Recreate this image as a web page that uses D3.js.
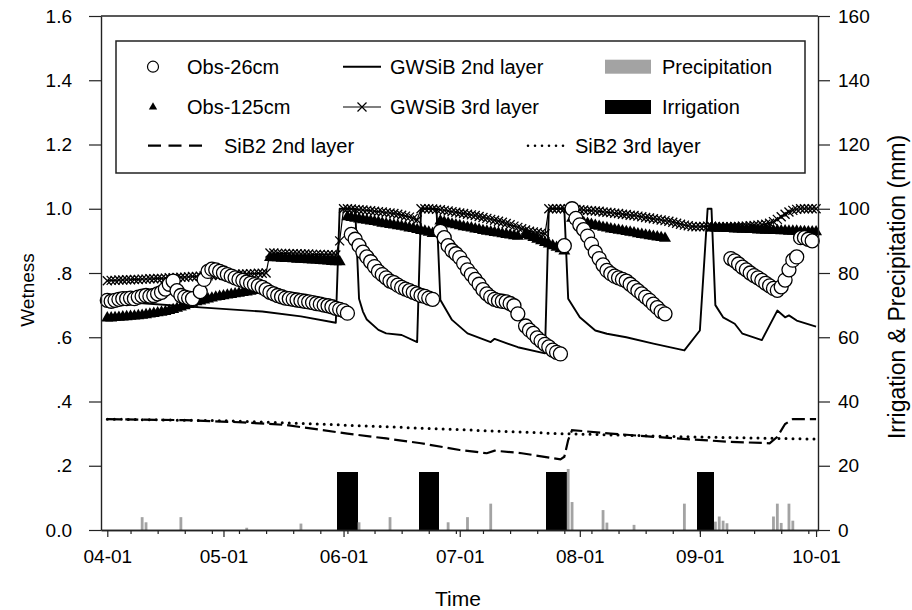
<!DOCTYPE html>
<html><head><meta charset="utf-8">
<script src="https://cdn.jsdelivr.net/npm/d3@7"></script>
<style>
body{margin:0;background:#fff}
svg{display:block}
text{font-family:Arial,"Liberation Sans",sans-serif;fill:#000}
</style>
</head><body>
<svg id="chart" width="912" height="610"></svg>
<script>
// ---------------- DATA ----------------
const year = 2010;
const monthTicks = ["04-01","05-01","06-01","07-01","08-01","09-01","10-01"];
const yTickValues = [0,0.2,0.4,0.6,0.8,1.0,1.2,1.4,1.6];
const yTickLabels = ["0.0",".2",".4",".6",".8","1.0","1.2","1.4","1.6"];
const rTickValues = [0,20,40,60,80,100,120,140,160];

const precipDates  = ["04-10","04-11","04-20","05-07","05-21","06-05","06-13","06-28","07-03","07-09","07-29","07-30","08-07","08-08","08-15","08-28","09-05","09-06","09-07","09-08","09-20","09-21","09-22","09-24","09-25"];
const precipValues = [4,2.4,4,0.7,2,2.4,4,2.4,4,8.2,19,8.7,6.2,2.3,1.6,8.2,2.6,4.2,2.9,2.1,4.2,8.2,2.2,8.2,2.9];

const irrigDates  = ["05-31","06-01","06-02","06-03","06-04","06-21","06-22","06-23","06-24","06-25","07-24","07-25","07-26","07-27","07-28","09-01","09-02","09-03","09-04"];
const irrigValues = [18,18,18,18,18,18,18,18,18,18,18,18,18,18,18,18,18,18,18];

// GWSiB 2nd layer (solid line), read at break points
const gw2Dates  = ["04-01","04-11","04-25","05-11","05-21","05-30","05-31","06-04","06-05","06-06","06-07","06-10","06-12","06-16","06-20","06-21","06-25","06-26","06-29","07-03","07-09","07-10","07-16","07-23","07-24","07-28","07-29","08-01","08-05","08-08","08-13","08-20","08-28","09-01","09-03","09-04","09-05","09-07","09-10","09-12","09-17","09-21","09-23","09-24","09-26","10-01"];
const gw2Values = [.715,.705,.693,.68,.665,.645,1.0,1.0,.72,.68,.655,.623,.612,.607,.585,1.0,1.0,.716,.654,.612,.585,.595,.569,.55,1.0,1.0,.72,.662,.621,.611,.60,.58,.559,.621,1.0,1.0,.70,.662,.642,.611,.591,.683,.662,.668,.652,.633];

// SiB2 2nd layer (dashed)
const sib2Dates  = ["04-01","04-21","05-06","05-17","05-23","06-02","06-12","06-21","07-01","07-08","07-10","07-17","07-27","07-28","07-29","07-30","08-09","08-26","09-08","09-19","09-21","09-23","09-25","10-01"];
const sib2Values = [.345,.342,.335,.327,.317,.30,.285,.27,.249,.239,.247,.239,.22,.228,.28,.311,.30,.285,.275,.27,.29,.33,.345,.345];

// SiB2 3rd layer (dotted)
const sib3Dates  = ["04-01","05-01","05-25","06-21","07-08","07-27","08-29","10-01"];
const sib3Values = [.345,.34,.33,.317,.309,.30,.29,.283];

// daily values from 04-01 (index 0) to 10-01 (index 183); null = no point
const obs26Values = [
.715,.712,.715,.718,.72,.72,.722,.72,.725,.728,
.73,.728,.73,.735,.74,.75,.765,.775,.745,.73,
.725,.722,.72,null,.742,.78,.805,.812,.81,.805,
.80,.795,.79,.785,.78,.777,.772,.768,.764,.76,
.755,.748,.74,.735,.73,.726,.722,.72,.718,.716,
.714,.712,.71,.708,.705,.703,.70,.698,.695,.69,
.687,.683,.675,.92,.905,.885,.865,.85,.835,.82,
.805,.795,.785,.775,.77,.762,.755,.75,.745,.74,
.735,.73,.727,.722,.718,null,.93,.91,.885,.87,
.86,.848,.83,.81,.795,.78,.765,.748,.735,.725,
.718,.714,.712,.71,.705,.698,.673,null,.635,.622,
.612,.598,.588,.578,.57,.56,.553,.548,.885,null,
1.0,.97,.95,.935,.915,.89,.865,.845,.825,.808,
.798,.79,.785,.78,.775,.765,.755,.745,.735,.725,
.715,.703,.692,.68,.673,null,null,null,null,null,
null,null,null,null,null,null,null,null,null,null,
null,.845,.838,.828,.818,.81,.80,.792,.785,.777,
.768,.76,.752,.746,.757,.778,.81,.84,.85,.91,
.91,.905,.90,null];

const obs125Values = [
.66,.66,.661,.662,.663,.664,.665,.666,.667,.668,
.67,.672,.674,.676,.678,.68,.683,.686,.69,.694,
.698,.702,.706,.71,.713,.716,.719,.722,.725,.727,
.729,.731,.733,.735,.737,.739,.741,.743,.745,.747,
.75,.755,.848,.847,.847,.846,.845,.845,.844,.843,
.843,.842,.841,.84,.84,.839,.838,.837,.836,.835,
.835,null,.975,.973,.97,.968,.966,.964,.962,.96,
.958,.955,.953,.951,.949,.947,.945,.943,.94,.938,
.935,.932,.93,.927,.923,null,.962,.958,.955,.952,
.95,.947,.944,.942,.94,.937,.935,.932,.93,.928,
.926,.924,.922,.92,.918,.916,.914,null,.92,.915,
.91,.905,.9,.895,.89,.885,.88,.875,.868,null,
.97,.965,.96,.957,.954,.951,.948,.945,.942,.94,
.937,.935,.933,.931,.929,.927,.925,.922,.92,.918,
.916,.914,.912,.91,.908,null,null,null,null,null,
null,null,null,null,null,null,.94,.94,.939,.939,
.938,.938,.937,.937,.936,.936,.935,.935,.934,.934,
.933,.933,.932,.932,.931,.931,.93,.93,.93,.929,
.929,.928,.928,.928];

const gw3Values = [
.776,.777,.777,.778,.778,.779,.779,.78,.78,.781,
.781,.782,.782,.783,.783,.784,.785,.785,.786,.787,
.787,.788,.789,.789,.79,.791,.791,.792,.793,.793,
.794,.795,.795,.796,.796,.797,.797,.798,.798,.799,
.799,.80,.862,.862,.861,.861,.861,.86,.86,.86,
.859,.859,.859,.858,.858,.858,.857,.857,.857,.856,
.90,1.0,1.0,.999,.998,.997,.996,.995,.994,.992,
.991,.99,.988,.987,.985,.983,.98,.977,.974,.97,
.965,1.0,1.0,1.0,.999,.998,.997,.995,.993,.991,
.989,.987,.985,.983,.981,.979,.976,.973,.97,.967,
.964,.961,.958,.954,.95,.946,.942,.938,.934,.93,
.928,.926,.924,.922,1.0,1.0,1.0,1.0,1.0,1.0,
.999,.998,.997,.996,.995,.994,.993,.992,.99,.989,
.988,.986,.985,.983,.982,.98,.979,.977,.975,.973,
.971,.969,.967,.965,.963,.961,.958,.955,.952,.949,
.947,.945,.944,.944,.945,.946,.945,.944,.944,.944,
.944,.944,.945,.945,.946,.946,.947,.948,.949,.95,
.952,.955,.96,.967,.975,.983,.99,.995,.998,1.0,
1.0,1.0,1.0,1.0];

const legendItems = [
  {label:"Obs-26cm", kind:"circle", col:0, row:0},
  {label:"Obs-125cm", kind:"triangle", col:0, row:1},
  {label:"SiB2  2nd layer", kind:"dash", col:0, row:2},
  {label:"GWSiB 2nd layer", kind:"solid", col:1, row:0},
  {label:"GWSiB 3rd layer", kind:"xline", col:1, row:1},
  {label:"SiB2 3rd layer", kind:"dot", col:1, row:2},
  {label:"Precipitation", kind:"gray", col:2, row:0},
  {label:"Irrigation", kind:"black", col:2, row:1}
];

// ---------------- CHART ----------------
const parse = s => { const [m,d] = s.split("-").map(Number); return new Date(year, m-1, d); };
const day0 = new Date(year,3,1);
const dayDate = i => d3.timeDay.offset(day0, i);
const DAY = 864e5;

const svg = d3.select("#chart");
const L=101, R=818, T=16, B=530;
const FONT = 'Arial, "Liberation Sans", sans-serif';

const x = d3.scaleTime().domain([new Date(year,2,30,9), new Date(year,9,1,12)]).range([L,R]);
const yL = d3.scaleLinear().domain([0,1.6]).range([B,T]);
const yR = d3.scaleLinear().domain([0,160]).range([B,T]);

// bars
const irrig = irrigDates.map((d,i)=>({date:parse(d), v:irrigValues[i]}));
svg.append("g").attr("shape-rendering","crispEdges").selectAll("rect").data(irrig).join("rect")
  .attr("x", d=>x(new Date(+d.date - DAY/2)) - 0.5)
  .attr("width", d=>x(new Date(+d.date + DAY/2)) - x(new Date(+d.date - DAY/2)) + 1.2)
  .attr("y", d=>yR(d.v)).attr("height", d=>yR(0)-yR(d.v)).attr("fill","#000");
const precip = precipDates.map((d,i)=>({date:parse(d), v:precipValues[i]}));
svg.append("g").selectAll("rect").data(precip).join("rect")
  .attr("x", d=>x(d.date)-1.4).attr("width", 2.8)
  .attr("y", d=>yR(d.v)).attr("height", d=>yR(0)-yR(d.v)).attr("fill","#a3a3a3");

// lines
const line = d3.line().defined(d=>d.v!=null).x(d=>x(d.date)).y(d=>yL(d.v));
const toSeries = (dates, vals) => dates.map((d,i)=>({date:parse(d), v:vals[i]}));
const daily = vals => vals.map((v,i)=>({date:dayDate(i), v}));

svg.append("path").datum(toSeries(sib3Dates, sib3Values)).attr("d", line)
  .attr("fill","none").attr("stroke","#000").attr("stroke-width",3)
  .attr("stroke-linecap","round").attr("stroke-dasharray","0,7");
svg.append("path").datum(toSeries(sib2Dates, sib2Values)).attr("d", line)
  .attr("fill","none").attr("stroke","#000").attr("stroke-width",2.2)
  .attr("stroke-dasharray","13,5");
svg.append("path").datum(toSeries(gw2Dates, gw2Values)).attr("d", line)
  .attr("fill","none").attr("stroke","#000").attr("stroke-width",1.9).attr("stroke-linejoin","round");

// GWSiB 3rd with x markers
const gw3 = daily(gw3Values);
svg.append("path").datum(gw3).attr("d", line)
  .attr("fill","none").attr("stroke","#000").attr("stroke-width",1.2);
const xMark = "M-4.5,-4.5L4.5,4.5M-4.5,4.5L4.5,-4.5";
svg.append("g").selectAll("path").data(gw3.filter(d=>d.v!=null)).join("path")
  .attr("transform", d=>`translate(${x(d.date)},${yL(d.v)})`)
  .attr("d", xMark).attr("stroke","#000").attr("stroke-width",1.3).attr("fill","none");

// triangles
const tri = d3.symbol(d3.symbolTriangle, 62)();
svg.append("g").selectAll("path").data(daily(obs125Values).filter(d=>d.v!=null)).join("path")
  .attr("transform", d=>`translate(${x(d.date)},${yL(d.v)})`)
  .attr("d", tri).attr("fill","#000");

// circles
svg.append("g").selectAll("circle").data(daily(obs26Values).filter(d=>d.v!=null)).join("circle")
  .attr("cx", d=>x(d.date)).attr("cy", d=>yL(d.v)).attr("r",7)
  .attr("fill","#fff").attr("stroke","#000").attr("stroke-width",1.3);

// ---------------- AXES ----------------
function styleAxis(g, size){
  g.attr("font-family", FONT).attr("font-size", size);
  g.selectAll(".domain").attr("stroke","#222").attr("stroke-width",1.4);
  g.selectAll(".tick line").attr("stroke","#222").attr("stroke-width",1.2);
  g.selectAll(".tick text").attr("fill","#000");
}
svg.append("line").attr("x1",L).attr("x2",R).attr("y1",T).attr("y2",T).attr("stroke","#222").attr("stroke-width",1.4);

const gl = svg.append("g").attr("transform",`translate(${L},0)`)
  .call(d3.axisLeft(yL).tickValues(yTickValues).tickFormat((d,i)=>yTickLabels[i]).tickSize(12).tickPadding(17).tickSizeOuter(0));
styleAxis(gl, 19);
const gr = svg.append("g").attr("transform",`translate(${R},0)`)
  .call(d3.axisRight(yR).tickValues(rTickValues).tickSize(12).tickPadding(8).tickSizeOuter(0));
styleAxis(gr, 19);

const weekTicks = d3.range(6, 183, 7).map(dayDate);
const gm = svg.append("g").attr("transform",`translate(0,${B})`)
  .call(d3.axisBottom(x).tickValues(weekTicks).tickFormat("").tickSize(4).tickSizeOuter(0));
styleAxis(gm, 19);
const gb = svg.append("g").attr("transform",`translate(0,${B})`)
  .call(d3.axisBottom(x).tickValues(monthTicks.map(parse)).tickFormat(d3.timeFormat("%m-%d")).tickSize(7).tickPadding(13).tickSizeOuter(0));
styleAxis(gb, 19);

// titles
svg.append("text").attr("transform","translate(34,290) rotate(-90)").attr("text-anchor","middle")
  .attr("font-size",19).text("Wetness");
svg.append("text").attr("x",458).attr("y",606).attr("text-anchor","middle")
  .attr("font-size",21).text("Time");
svg.append("text").attr("transform","translate(905,287) rotate(-90)").attr("text-anchor","middle")
  .attr("font-size",23).text("Irrigation & Precipitation (mm)");

// ---------------- LEGEND ----------------
const lg = svg.append("g");
lg.append("rect").attr("x",116).attr("y",41).attr("width",689).attr("height",132)
  .attr("fill","#fff").attr("stroke","#222").attr("stroke-width",1.5);
const rowY = [66.7,107,145.7];
const colSym = [153, 362, 628];
const colText = [187, 390, 662];
legendItems.forEach(it=>{
  const cy = rowY[it.row];
  let cx = colSym[it.col];
  let tx = colText[it.col];
  const g = lg.append("g");
  if(it.kind==="circle"){
    g.append("circle").attr("cx",cx).attr("cy",cy).attr("r",5.5).attr("fill","#fff").attr("stroke","#000").attr("stroke-width",1.2);
  } else if(it.kind==="triangle"){
    g.append("path").attr("transform",`translate(${cx},${cy})`).attr("d", d3.symbol(d3.symbolTriangle,30)()).attr("fill","#000");
  } else if(it.kind==="dash"){
    g.append("line").attr("x1",148).attr("x2",202).attr("y1",cy).attr("y2",cy).attr("stroke","#000").attr("stroke-width",2.2).attr("stroke-dasharray","13,7.5");
    tx = 224;
  } else if(it.kind==="solid"){
    g.append("line").attr("x1",343).attr("x2",381).attr("y1",cy).attr("y2",cy).attr("stroke","#000").attr("stroke-width",2);
  } else if(it.kind==="xline"){
    g.append("line").attr("x1",343).attr("x2",381).attr("y1",cy).attr("y2",cy).attr("stroke","#000").attr("stroke-width",1.2);
    g.append("path").attr("transform",`translate(${cx},${cy})`).attr("d",xMark).attr("stroke","#000").attr("stroke-width",1.2);
  } else if(it.kind==="dot"){
    g.append("line").attr("x1",528).attr("x2",564).attr("y1",cy).attr("y2",cy).attr("stroke","#000").attr("stroke-width",2.6).attr("stroke-linecap","round").attr("stroke-dasharray","0,7");
    tx = 575;
  } else if(it.kind==="gray" || it.kind==="black"){
    g.append("rect").attr("x",605).attr("y",cy-7).attr("width",46).attr("height",14).attr("fill", it.kind==="gray" ? "#a3a3a3" : "#000");
  }
  g.append("text").attr("x",tx).attr("y",cy).attr("dy","0.36em").attr("font-size",20).text(it.label);
});
</script>
</body></html>
